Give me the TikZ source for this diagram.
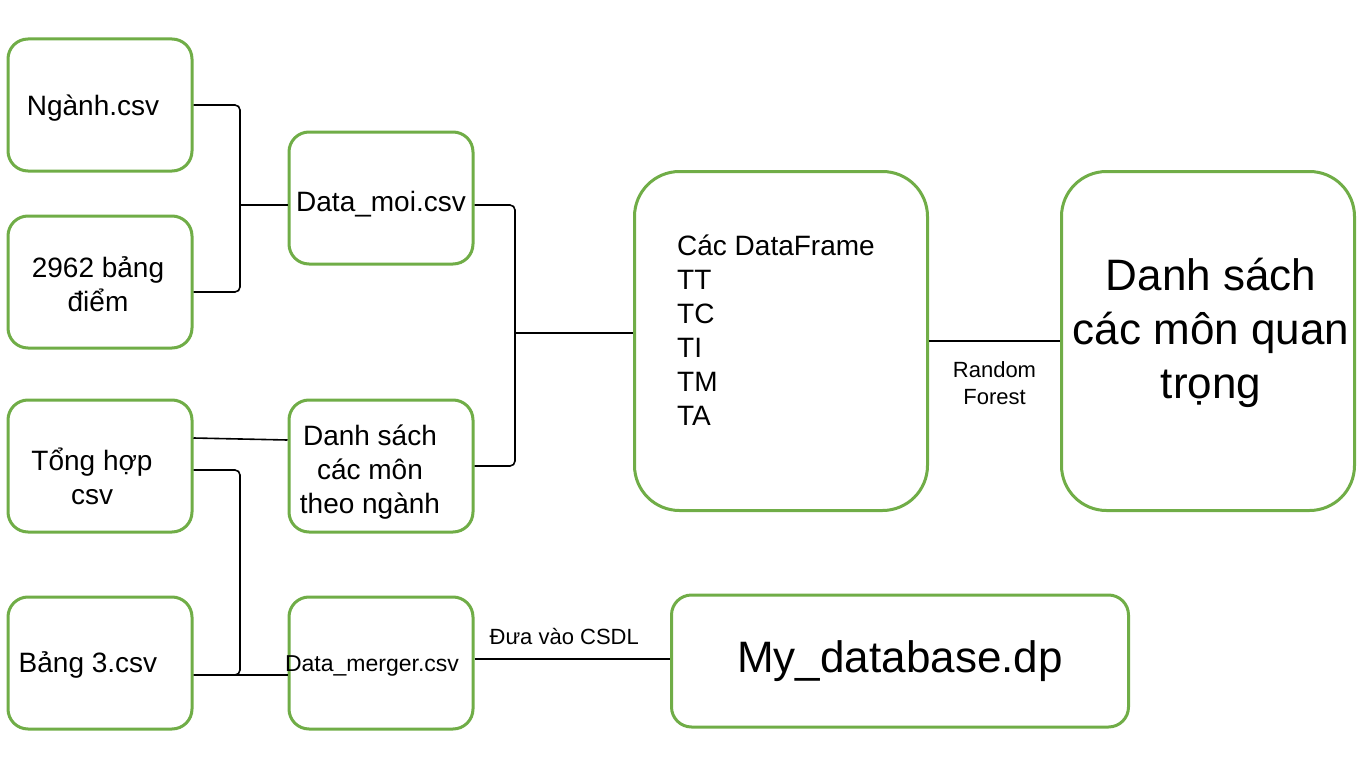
\documentclass[tikz,border=0pt]{standalone}
\usepackage{fontspec}
\setmainfont{Liberation Sans}
\definecolor{leaf}{HTML}{70AD47}
\definecolor{ink}{HTML}{000000}
\usetikzlibrary{arrows.meta, positioning, calc}
\tikzset{
  box/.style={draw=leaf, fill=white, line width=3pt, rounded corners=20pt, align=center,
              font=\fontsize{28}{34}\selectfont, minimum width=184pt, minimum height=132pt, inner sep=2pt},
  txt/.style={font=\fontsize{28}{34}\selectfont, align=center, inner sep=0pt},
  wire/.style={line width=1.6pt, color=ink, rounded corners=5pt},
  lbl/.style={font=\fontsize{22}{27}\selectfont, color=ink, inner sep=1pt, align=center},
}
\begin{document}
\begin{tikzpicture}[x=1pt,y=-1pt,
        big/.style={box,rounded corners=45pt,minimum width=293pt,minimum height=339pt},
        huge/.style={font=\fontsize{44}{54}\selectfont}]
        \useasboundingbox (0,0) rectangle (1366,768);
        % inputs
        \node[box] (nganh) at (100,105) {};
        \node[txt] (nganh-t) at (93,108) {Ngành.csv};
        \node[box] (bangdiem) at (100,282) {};
        \node[txt] (bangdiem-t) at (98,284) {2962 bảng\\ điểm};
        \node[box] (tonghop) at (100,466) {};
        \node[txt] (tonghop-t) at (92,476) {Tổng hợp\\csv};
        \node[box] (bang3) at (100,663) {};
        \node[txt] (bang3-t) at (88,665) {Bảng 3.csv};
        % intermediate files
        \node[box] (datamoi) at (381,198) {};
        \node[txt] (datamoi-t) at (381,204) {Data\_moi.csv};
        \node[box] (dsmon) at (381,466) {};
        \node[txt] (dsmon-t) at (370,472) {Danh sách\\các môn\\theo ngành};
        \node[box] (merger) at (381,663) {};
        \node[txt,font=\fontsize{23}{28}\selectfont] (merger-t) at (372,666) {Data\_merger.csv};
        % results
        \node[big] (frames) at (781,341) {};
        \node[txt,align=left,anchor=west] (frames-t) at (677,330) {Các DataFrame\\TT\\TC\\TI\\TM\\TA};
        \node[big] (quantrong) at (1208,341) {};
        \node[txt,huge] (quantrong-t) at (1211,333) {Danh sách\\các môn quan\\trọng};
        \node[box,huge,minimum width=457pt] (mydb) at (900,661) {My\_database.dp};
        % junctions
        \coordinate (j1) at (240,205);
        \coordinate (j2) at (515,333);
        \coordinate (j3) at (240,675);
        \draw[wire] (nganh.east) -| (j1) |- ([yshift=-10pt]bangdiem.east);
        \draw[wire] (j1) -- (j1 -| datamoi.west);
        \draw[wire] ([yshift=-7pt]datamoi.east) -| (j2) |- (dsmon.east);
        \draw[wire] (j2) -- (j2 -| frames.west);
        \draw[wire] ([yshift=28pt]tonghop.east) -- ([yshift=26pt]dsmon.west);
        \draw[wire] ([yshift=-4pt]tonghop.east) -| (j3) -- ([yshift=-12pt]bang3.east);
        \draw[wire] ([yshift=-12pt]bang3.east) -- ([yshift=-12pt]merger.west);
        \draw[wire] ([yshift=4pt]merger.east) --node[lbl,above=12pt,xshift=-8pt] {Đưa vào CSDL} ([yshift=4pt]merger.east -| mydb.west);
        \draw[wire] (frames.east) --node[lbl,below=19pt] {Random\\Forest} (quantrong.west);
      \end{tikzpicture}
\end{document}
